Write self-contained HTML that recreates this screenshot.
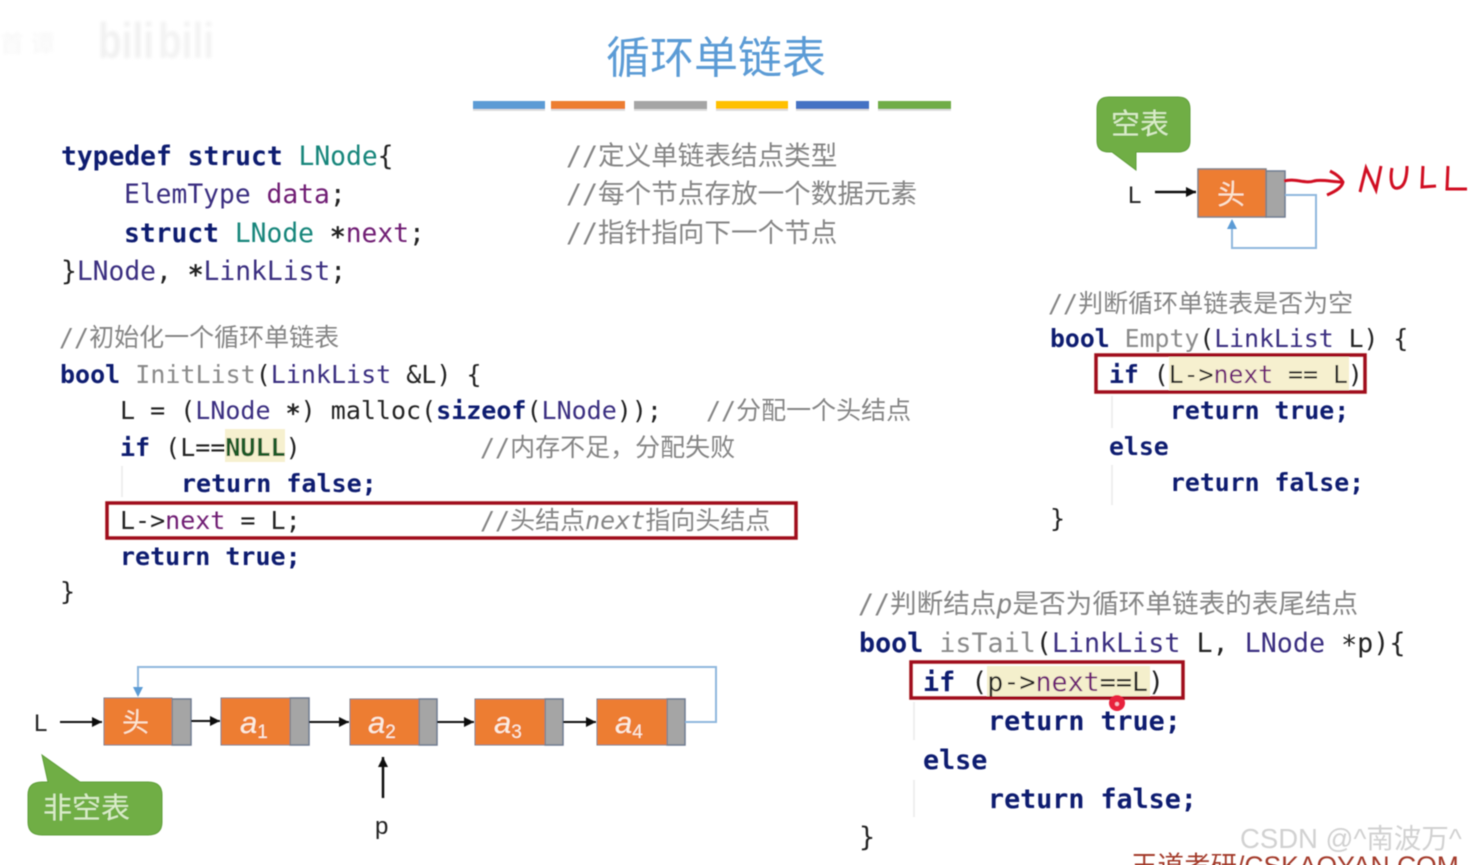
<!DOCTYPE html>
<html><head><meta charset="utf-8">
<style>
html,body{margin:0;padding:0;background:#fff;width:1471px;height:865px;overflow:hidden}
svg{display:block}
text{white-space:pre}
.c{font-family:"DejaVu Sans Mono","Liberation Mono",monospace;fill:#222}
.a{font-size:26.3px}.b{font-size:25px}.r{font-size:24.8px}.d{font-size:26.7px}
.k{font-weight:bold;fill:#0c1a70}
.t{fill:#12857a}
.u{fill:#3a2f80}
.v{fill:#6f1f73}
.g{fill:#8a8a8a}
.n{fill:#1c5a25;font-weight:bold}
.cm{font-family:"DejaVu Sans Mono","Noto Sans CJK SC",sans-serif;fill:#858585;font-size:25px}
.cl{font-size:26.6px}
.i{font-family:"DejaVu Sans Mono",monospace;font-style:italic}
.cj{font-family:"Liberation Sans","Noto Sans CJK SC",sans-serif}
.w{fill:#fbeee2;font-family:"Liberation Sans","Noto Sans CJK SC",sans-serif;font-style:italic;font-size:31px}
.s{font-size:19px;font-style:normal}
.lab{font-family:"Liberation Sans",sans-serif;font-size:24px;fill:#222}
</style></head><body>
<svg width="1471" height="865" viewBox="0 0 1471 865" xmlns="http://www.w3.org/2000/svg">
<defs>
<marker id="ab" markerUnits="userSpaceOnUse" markerWidth="12" markerHeight="12" refX="10" refY="5" orient="auto"><path d="M0,0L10,5L0,10z" fill="#111"/></marker>
<filter id="bl"><feGaussianBlur stdDeviation="0.6"/></filter>
<filter id="wm"><feGaussianBlur stdDeviation="1.5"/></filter>
</defs>
<rect width="1471" height="865" fill="#fff"/>

<!-- watermark -->
<g filter="url(#wm)">
<text x="98" y="58" font-family="Liberation Sans" font-weight="bold" font-size="50" fill="#f1f1f1" textLength="56" lengthAdjust="spacingAndGlyphs">bili</text>
<text x="158" y="58" font-family="Liberation Sans" font-weight="bold" font-size="50" fill="#f3f3f3" textLength="56" lengthAdjust="spacingAndGlyphs">bili</text>
<text x="0" y="52" class="cj" font-size="24" fill="#f6f6f6">首 谭</text>
</g>

<g filter="url(#bl)">
<!-- title -->
<text x="606" y="73" class="cj" font-size="44" fill="#5b9bd5">循环单链表</text>
<g fill="#ddd">
<rect x="473" y="105" width="72" height="6"/><rect x="551" y="105" width="74" height="6"/><rect x="634" y="105" width="73" height="6"/><rect x="716" y="105" width="72" height="6"/><rect x="796" y="105" width="73" height="6"/><rect x="878" y="105" width="73" height="6"/>
</g>
<rect x="473" y="101" width="72" height="8" fill="#5b9bd5"/>
<rect x="551" y="101" width="74" height="8" fill="#ed7d31"/>
<rect x="634" y="101" width="73" height="8" fill="#a5a5a5"/>
<rect x="716" y="101" width="72" height="8" fill="#ffc000"/>
<rect x="796" y="101" width="73" height="8" fill="#4472c4"/>
<rect x="878" y="101" width="73" height="8" fill="#70ad47"/>

<!-- struct -->
<text x="61" y="165" class="c a"><tspan class="k">typedef struct</tspan> <tspan class="t">LNode</tspan>{</text>
<text x="124" y="203" class="c a"><tspan class="u">ElemType</tspan> <tspan class="v">data</tspan>;</text>
<text x="124" y="242" class="c a"><tspan class="k">struct</tspan> <tspan class="t">LNode</tspan> <tspan dy="4" font-weight="bold">*</tspan><tspan class="v" dy="-4">next</tspan>;</text>
<text x="61" y="280" class="c a">}<tspan class="u">LNode</tspan>, <tspan dy="4" font-weight="bold">*</tspan><tspan class="u" dy="-4">LinkList</tspan>;</text>
<text x="566" y="165" class="cm cl">//定义单链表结点类型</text>
<text x="566" y="203" class="cm cl">//每个节点存放一个数据元素</text>
<text x="566" y="242" class="cm cl">//指针指向下一个节点</text>

<!-- init -->
<text x="59" y="346" class="cm">//初始化一个循环单链表</text>
<text x="60" y="383" class="c b"><tspan class="k">bool</tspan> <tspan class="g">InitList</tspan>(<tspan class="u">LinkList</tspan> &amp;L) {</text>
<text x="120" y="419" class="c b">L = (<tspan class="u">LNode</tspan> <tspan dy="3" font-weight="bold">*</tspan><tspan dy="-3">)</tspan> malloc(<tspan class="k">sizeof</tspan>(<tspan class="u">LNode</tspan>));</text>
<text x="706" y="419" class="cm">//分配一个头结点</text>
<rect x="225" y="429" width="60" height="33" fill="#f6f0cf"/>
<text x="120" y="456" class="c b"><tspan class="k">if</tspan> (L==<tspan class="n">NULL</tspan>)</text>
<text x="480" y="456" class="cm">//内存不足，分配失败</text>
<line x1="122" y1="466" x2="122" y2="497" stroke="#eee" stroke-width="2"/>
<text x="181" y="492" class="c b k">return false;</text>
<text x="120" y="529" class="c b">L-&gt;<tspan class="v">next</tspan> = L;</text>
<text x="480" y="529" class="cm">//头结点<tspan class="i">next</tspan>指向头结点</text>
<rect x="107" y="503" width="689" height="35" fill="none" stroke="#a00f1c" stroke-width="3.5"/>
<text x="120" y="565" class="c b k">return true;</text>
<text x="60" y="600" class="c b">}</text>

<!-- empty -->
<text x="1048" y="312" class="cm">//判断循环单链表是否为空</text>
<text x="1050" y="347" class="c r"><tspan class="k">bool</tspan> <tspan class="g">Empty</tspan>(<tspan class="u">LinkList</tspan> L) {</text>
<rect x="1169" y="357" width="180" height="33" fill="#f6f0cf"/>
<text x="1109" y="383" class="c r"><tspan class="k">if</tspan> (L-&gt;<tspan class="v">next</tspan> == L)</text>
<rect x="1096" y="355" width="269" height="37" fill="none" stroke="#a00f1c" stroke-width="3.5"/>
<line x1="1112" y1="396" x2="1112" y2="428" stroke="#eee" stroke-width="2"/>
<text x="1170" y="419" class="c r k">return true;</text>
<text x="1109" y="455" class="c r k">else</text>
<line x1="1112" y1="465" x2="1112" y2="505" stroke="#eee" stroke-width="2"/>
<text x="1170" y="491" class="c r k">return false;</text>
<text x="1050" y="527" class="c b">}</text>

<!-- isTail -->
<text x="858" y="613" class="cm cl">//判断结点<tspan class="i">p</tspan>是否为循环单链表的表尾结点</text>
<text x="859" y="652" class="c d"><tspan class="k">bool</tspan> <tspan class="g">isTail</tspan>(<tspan class="u">LinkList</tspan> L, <tspan class="u">LNode</tspan> <tspan dy="2">*</tspan><tspan dy="-2">p</tspan>){</text>
<rect x="987" y="666" width="163" height="30" fill="#f4efcc"/>
<text x="923" y="691" class="c d"><tspan class="k">if</tspan> (p-&gt;<tspan class="v">next</tspan>==L)</text>
<rect x="911" y="662" width="272" height="36" fill="none" stroke="#a00f1c" stroke-width="3.5"/>
<line x1="914" y1="702" x2="914" y2="740" stroke="#eee" stroke-width="2"/>
<text x="988" y="730" class="c d k">return true;</text>
<text x="923" y="769" class="c d k">else</text>
<line x1="914" y1="780" x2="914" y2="817" stroke="#eee" stroke-width="2"/>
<text x="988" y="808" class="c d k">return false;</text>
<text x="859" y="846" class="c d">}</text>
<circle cx="1117" cy="703" r="8" fill="#e8203c"/>
<circle cx="1117" cy="704" r="2" fill="#f8c0c8"/>

<!-- empty list diagram -->
<path d="M1109,97H1178Q1190,97 1190,109V141Q1190,152 1178,152H1136V170L1112,152H1109Q1097,152 1097,141V109Q1097,97 1109,97z" fill="#6fae45" stroke="#5f9e3a" stroke-width="1"/>
<text x="1111" y="134" class="cj" font-size="29" fill="#d9ecc8">空表</text>
<text x="1128" y="203" class="lab">L</text>
<line x1="1155" y1="192" x2="1196" y2="192" stroke="#111" stroke-width="2.5" marker-end="url(#ab)"/>
<rect x="1266" y="171" width="19" height="46" fill="#a5a5a5" stroke="#6e7a90" stroke-width="1.5"/>
<rect x="1198" y="169" width="68" height="48" fill="#ed7d31" stroke="#7d8087" stroke-width="1.5"/>
<text x="1217" y="204" class="cj" font-size="28" fill="#fbe6d2">头</text>
<path d="M1285,195H1316V248H1232V221" fill="none" stroke="#8fb8de" stroke-width="2"/>
<path d="M1227,229L1232,219L1237,229z" fill="#5b9bd5"/>
<path d="M1284,181C1295,178 1305,184 1314,181C1322,179 1332,182 1342,182" fill="none" stroke="#d01020" stroke-width="3"/>
<path d="M1330,171C1336,174 1341,178 1343,182C1342,188 1334,192 1327,195" fill="none" stroke="#d01020" stroke-width="3"/>
<path d="M1360,192L1366,168L1376,190L1381,166" fill="none" stroke="#d01020" stroke-width="3"/>
<path d="M1392,168C1390,178 1391,190 1398,188C1405,187 1407,176 1407,166" fill="none" stroke="#d01020" stroke-width="3"/>
<path d="M1423,166L1422,187L1436,186" fill="none" stroke="#d01020" stroke-width="3"/>
<path d="M1448,166L1447,189L1467,189" fill="none" stroke="#d01020" stroke-width="3"/>
<text x="1355" y="192" font-size="1" fill="#fff">NULL</text>

<!-- non empty list -->
<text x="34" y="731" class="lab">L</text>
<line x1="60" y1="722" x2="102" y2="722" stroke="#111" stroke-width="2" marker-end="url(#ab)"/>

<rect x="172" y="699" width="19" height="46" fill="#a5a5a5" stroke="#6e7a90" stroke-width="1.5"/>
<rect x="104" y="698" width="68" height="47" fill="#ed7d31" stroke="#7d8087" stroke-width="1"/>
<text x="122" y="732" class="cj" font-size="27" fill="#fbe6d2">头</text>

<rect x="290" y="698" width="19" height="47" fill="#a5a5a5" stroke="#6e7a90" stroke-width="1.5"/>
<rect x="221" y="698" width="69" height="47" fill="#ed7d31" stroke="#7d8087" stroke-width="1"/>
<text x="240" y="733" class="w">a<tspan class="s" dy="5">1</tspan></text>

<rect x="419" y="699" width="18" height="46" fill="#a5a5a5" stroke="#6e7a90" stroke-width="1.5"/>
<rect x="350" y="699" width="69" height="46" fill="#ed7d31" stroke="#7d8087" stroke-width="1"/>
<text x="368" y="733" class="w">a<tspan class="s" dy="5">2</tspan></text>

<rect x="545" y="699" width="18" height="46" fill="#a5a5a5" stroke="#6e7a90" stroke-width="1.5"/>
<rect x="475" y="699" width="70" height="46" fill="#ed7d31" stroke="#7d8087" stroke-width="1"/>
<text x="494" y="733" class="w">a<tspan class="s" dy="5">3</tspan></text>

<rect x="667" y="699" width="18" height="46" fill="#a5a5a5" stroke="#6e7a90" stroke-width="1.5"/>
<rect x="597" y="699" width="70" height="46" fill="#ed7d31" stroke="#7d8087" stroke-width="1"/>
<text x="615" y="733" class="w">a<tspan class="s" dy="5">4</tspan></text>

<line x1="191" y1="721" x2="220" y2="721" stroke="#111" stroke-width="2" marker-end="url(#ab)"/>
<line x1="309" y1="722" x2="349" y2="722" stroke="#111" stroke-width="2" marker-end="url(#ab)"/>
<line x1="437" y1="722" x2="474" y2="722" stroke="#111" stroke-width="2" marker-end="url(#ab)"/>
<line x1="563" y1="722" x2="596" y2="722" stroke="#111" stroke-width="2" marker-end="url(#ab)"/>
<path d="M685,722H716V667H138V688" fill="none" stroke="#8fb8de" stroke-width="2"/>
<path d="M133,687L138,697L143,687z" fill="#5b9bd5"/>
<line x1="383" y1="798" x2="383" y2="757" stroke="#111" stroke-width="2.5" marker-end="url(#ab)"/>
<text x="375" y="834" class="lab">p</text>

<path d="M42,755L80,782H148Q162,782 162,795V822Q162,835 148,835H42Q28,835 28,822V795Q28,782 42,782H48z" fill="#6fae45" stroke="#5f9e3a" stroke-width="1"/>
<text x="43" y="818" class="cj" font-size="29" fill="#d9ecc8">非空表</text>

<!-- footer -->
<text x="1131" y="875" class="cj" font-size="26.5" fill="#a33a2c">王道考研/CSKAOYAN.COM</text>
<text x="1240" y="848" class="cj" font-size="27.5" fill="#c9c9c9" opacity=".85">CSDN @^南波万^</text>
</g>
</svg>
</body></html>
